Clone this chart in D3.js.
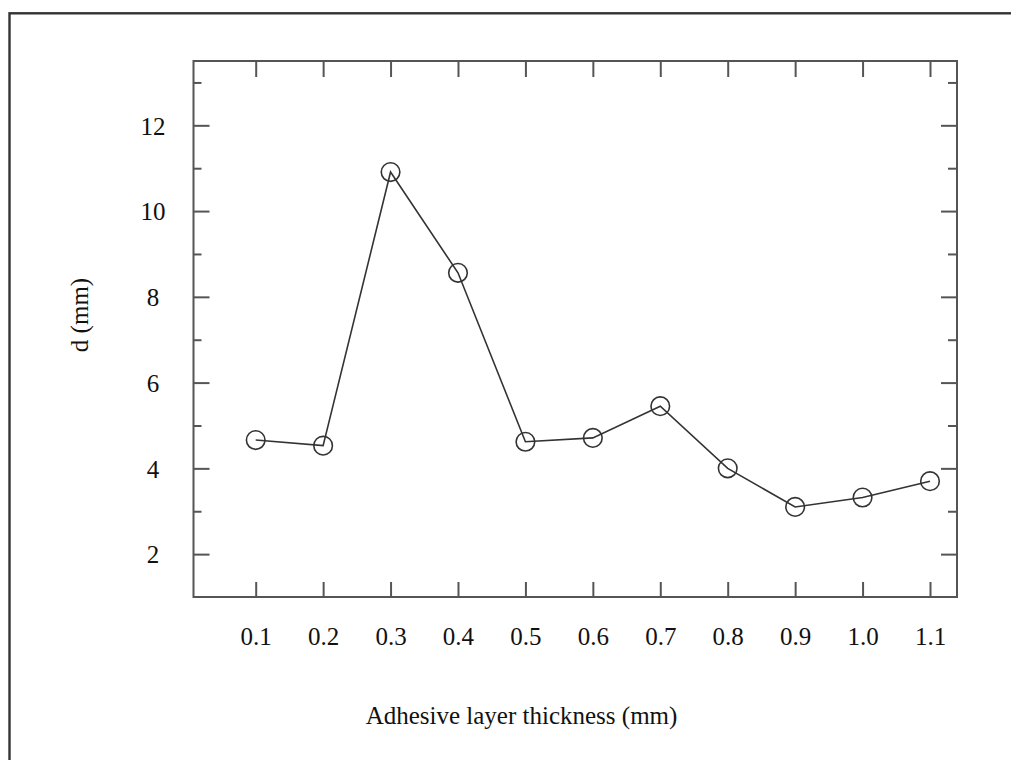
<!DOCTYPE html>
<html>
<head>
<meta charset="utf-8">
<script src="https://cdn.jsdelivr.net/npm/d3@7"></script>
<style>
  html, body { margin: 0; padding: 0; background: #fff; }
  svg { display: block; }
  text { font-family: "Liberation Serif", "Times New Roman", serif; fill: #111; }
</style>
</head>
<body>
<svg id="chart" width="1011" height="760"></svg>
<script>
// ---- data ----
const thickness = [0.1, 0.2, 0.3, 0.4, 0.5, 0.6, 0.7, 0.8, 0.9, 1.0, 1.1];
const dValues   = [4.66, 4.53, 10.91, 8.56, 4.62, 4.71, 5.45, 4.00, 3.10, 3.32, 3.70];
const xTickLabels = ["0.1","0.2","0.3","0.4","0.5","0.6","0.7","0.8","0.9","1.0","1.1"];
const yMajorTicks = [2, 4, 6, 8, 10, 12];
const yMinorTicks = [3, 5, 7, 9, 11, 13];
const xTitle = "Adhesive layer thickness (mm)";
const yTitle = "d (mm)";

// ---- layout ----
const svg = d3.select("#chart");
const plot = { left: 193.5, right: 957, top: 61, bottom: 597 };
const fontSize = "25px";

const x = d3.scaleLinear().domain([0.1, 1.1]).range([255.7, 930]);
const y = d3.scaleLinear().domain([1, 13.5]).range([plot.bottom, plot.top]);

// outer border (cropped at right and bottom)
svg.append("rect")
  .attr("x", 9.5).attr("y", 13.3)
  .attr("width", 1011).attr("height", 800)
  .attr("fill", "none").attr("stroke", "#333").attr("stroke-width", 2.4);

// plot frame
svg.append("rect")
  .attr("x", plot.left).attr("y", plot.top)
  .attr("width", plot.right - plot.left).attr("height", plot.bottom - plot.top)
  .attr("fill", "none").attr("stroke", "#555").attr("stroke-width", 2);

function styleAxis(g) {
  g.select(".domain").remove();
  g.selectAll(".tick line").attr("stroke", "#555").attr("stroke-width", 2);
  g.selectAll(".tick text")
    .style("font-family", '"Liberation Serif", "Times New Roman", serif')
    .style("font-size", fontSize).attr("fill", "#111");
}

// bottom axis with labels
const bottomAxis = svg.append("g")
  .attr("transform", `translate(0,${plot.bottom})`)
  .call(d3.axisBottom(x).tickValues(thickness)
    .tickFormat((d, i) => xTickLabels[i])
    .tickSizeInner(-15).tickSizeOuter(0).tickPadding(0));
styleAxis(bottomAxis);
bottomAxis.selectAll(".tick text").attr("y", 48).attr("dy", 0);

// top axis (ticks only)
const topAxis = svg.append("g")
  .attr("transform", `translate(0,${plot.top})`)
  .call(d3.axisTop(x).tickValues(thickness).tickFormat("")
    .tickSizeInner(-16).tickSizeOuter(0));
styleAxis(topAxis);

// left axis major with labels
const leftAxis = svg.append("g")
  .attr("transform", `translate(${plot.left},0)`)
  .call(d3.axisLeft(y).tickValues(yMajorTicks).tickFormat(d3.format("d"))
    .tickSizeInner(-16).tickSizeOuter(0).tickPadding(0));
styleAxis(leftAxis);
leftAxis.selectAll(".tick text").attr("x", -40.5).attr("text-anchor", "middle").attr("dy", "0.35em");

// left axis minor
const leftMinor = svg.append("g")
  .attr("transform", `translate(${plot.left},0)`)
  .call(d3.axisLeft(y).tickValues(yMinorTicks).tickFormat("")
    .tickSizeInner(-8).tickSizeOuter(0));
styleAxis(leftMinor);

// right axis major and minor
const rightAxis = svg.append("g")
  .attr("transform", `translate(${plot.right},0)`)
  .call(d3.axisRight(y).tickValues(yMajorTicks).tickFormat("")
    .tickSizeInner(-16).tickSizeOuter(0));
styleAxis(rightAxis);
const rightMinor = svg.append("g")
  .attr("transform", `translate(${plot.right},0)`)
  .call(d3.axisRight(y).tickValues(yMinorTicks).tickFormat("")
    .tickSizeInner(-9).tickSizeOuter(0));
styleAxis(rightMinor);

// axis titles
svg.append("text")
  .attr("x", 521.5).attr("y", 724)
  .attr("text-anchor", "middle")
  .style("font-size", fontSize)
  .text(xTitle);

svg.append("text")
  .attr("transform", "translate(88,315) rotate(-90)")
  .attr("text-anchor", "middle")
  .style("font-size", fontSize)
  .text(yTitle);

// data line
const pts = thickness.map((t, i) => [t, dValues[i]]);
svg.append("path")
  .datum(pts)
  .attr("fill", "none")
  .attr("stroke", "#333")
  .attr("stroke-width", 1.6)
  .attr("d", d3.line().x(d => x(d[0])).y(d => y(d[1])));

// markers
svg.append("g").selectAll("circle")
  .data(pts)
  .join("circle")
  .attr("cx", d => x(d[0]))
  .attr("cy", d => y(d[1]))
  .attr("r", 9.3)
  .attr("fill", "none")
  .attr("stroke", "#333")
  .attr("stroke-width", 1.6);
</script>
</body>
</html>
